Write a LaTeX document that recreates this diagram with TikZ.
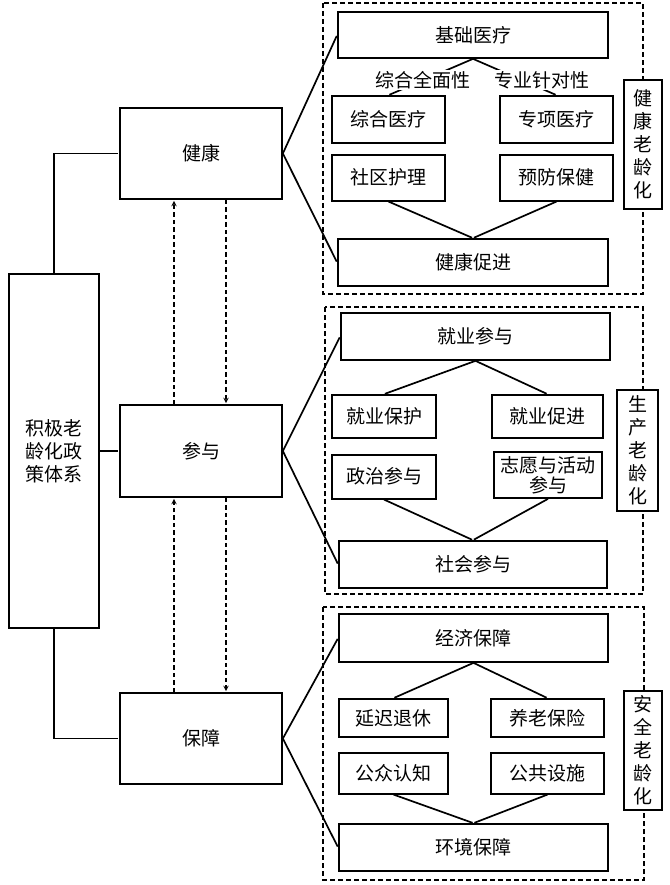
\documentclass[tikz,border=0pt]{standalone}
\usepackage{fontspec}
\setmainfont{Noto Sans CJK SC}
\usetikzlibrary{positioning}

\begin{document}
\begin{tikzpicture}[x=1pt,y=-1pt,>=stealth,shorten >=1pt,line width=1.7pt,
  font=\fontsize{19}{23}\selectfont,
  box/.style={draw,rectangle,fill=white,inner sep=0pt,align=center},
  big/.style={box,minimum width=270pt,minimum height=47pt},
  small/.style={box,minimum width=111pt,minimum height=44pt},
  side/.style={box,minimum width=38pt,minimum height=124pt},
  main/.style={box,minimum width=162pt,minimum height=91pt},
  frame/.style={draw,dash pattern=on 5pt off 3pt,line width=1.6pt},
  link/.style={dash pattern=on 4.5pt off 3pt,line width=1.4pt},
  lbl/.style={fill=white,inner sep=1pt}]
  \useasboundingbox (0,0) rectangle (669,885);

  % frames
  \draw[frame] (323,3) rectangle (643,294);
  \draw[frame] (325,307) rectangle (643,594);
  \draw[frame] (323,607) rectangle (644,880);

  \node[box,minimum width=90pt,minimum height=354pt] (zc) at (54,451) {积极老\\龄化政\\策体系};
  \node[main] (jk) at (201,153.5) {健康};
  \node[main,minimum height=92pt] (cy) at (201,451) {参与};
  \node[main] (bz) at (201,738.5) {保障};

  % health
  \node[big,minimum height=46pt] (jcyl) at (473,35) {基础医疗};
  \node[small,minimum width=113pt,minimum height=47pt] (zhyl) at (388.5,119.5) {综合医疗};
  \node[small,minimum width=113pt,minimum height=47pt] (zxyl) at (556.5,119.5) {专项医疗};
  \node[small,minimum width=113pt,minimum height=46pt] (sqhl) [below=10pt of zhyl] {社区护理};
  \node[small,minimum width=113pt,minimum height=46pt] (yfbj) [below=10pt of zxyl] {预防保健};
  \node[big] (jkcj) at (473,262.5) {健康促进};
  \node[side,minimum height=129pt] (jklh) at (643,144.5) {健\\康\\老\\龄\\化};

  % participation
  \node[big,minimum width=269pt] (jycy) at (475.5,336.5) {就业参与};
  \node[small,minimum width=104pt,minimum height=43pt] (jybh) at (384,416.5) {就业保护};
  \node[small,minimum height=43pt] (jycj) at (547.5,416.5) {就业促进};
  \node[small,minimum width=104pt] (zzcy) [below=15pt of jybh] {政治参与};
  \node[small,minimum width=108pt,minimum height=46pt,font=\fontsize{19}{20}\selectfont] (zyhd) at (548,475) {志愿与活动\\参与};
  \node[big,minimum width=268pt] (shcy) at (473,564.5) {社会参与};
  \node[side,minimum width=41pt,minimum height=121pt] (sclh) at (637.5,450.5) {生\\产\\老\\龄\\化};

  % security
  \node[big,minimum width=269pt,minimum height=48pt] (jjbz) at (473.5,638) {经济保障};
  \node[small,minimum width=109pt,minimum height=38pt] (ycyx) at (393.5,718) {延迟退休};
  \node[small,minimum width=113pt,minimum height=38pt] (ylbx) at (547.5,718) {养老保险};
  \node[small,minimum width=109pt,minimum height=41pt] (gzrz) [below=14pt of ycyx] {公众认知};
  \node[small,minimum width=113pt,minimum height=41pt] (ggss) [below=14pt of ylbx] {公共设施};
  \node[big,minimum width=269pt] (hjbz) at (473.5,847.5) {环境保障};
  \node[side,minimum height=119pt] (aqlh) at (643,750.5) {安\\全\\老\\龄\\化};

  % trunk
  \draw (zc.north) |- (jk.west);
  \draw (zc.east |- cy.west) -- (cy.west);
  \draw (zc.south) |- (bz.west);

  \path (jk.east) edge (jcyl.west)
                  edge (jkcj.west)
        (jcyl.south) edge (zhyl.north)
                     edge (zxyl.north)
        (sqhl.south) edge (jkcj.north)
        (yfbj.south) edge (jkcj.north);
  \node[lbl] (qmx) at (423,80) {综合全面性};
  \node[lbl] (zyx) at (542,80) {专业针对性};

  \path (cy.east) edge (jycy.west)
                  edge (shcy.west)
        (jycy.south) edge (jybh.north)
                     edge (jycj.north)
        (zzcy.south) edge (shcy.north)
        (zyhd.south) edge (shcy.north);

  \path (bz.east) edge (jjbz.west)
                  edge (hjbz.west)
        (jjbz.south) edge (ycyx.north)
                     edge (ylbx.north)
        (gzrz.south) edge (hjbz.north)
        (ggss.south) edge (hjbz.north);

  % dashed links
  \draw[link,->] ([xshift=-27pt]cy.north) -- ([xshift=-27pt]jk.south);
  \draw[link,->] ([xshift=25pt]jk.south) -- ([xshift=25pt]cy.north);
  \draw[link,->] ([xshift=-27pt]bz.north) -- ([xshift=-27pt]cy.south);
  \draw[link,->] ([xshift=25pt]cy.south) -- ([xshift=25pt]bz.north);
\end{tikzpicture}
\end{document}
